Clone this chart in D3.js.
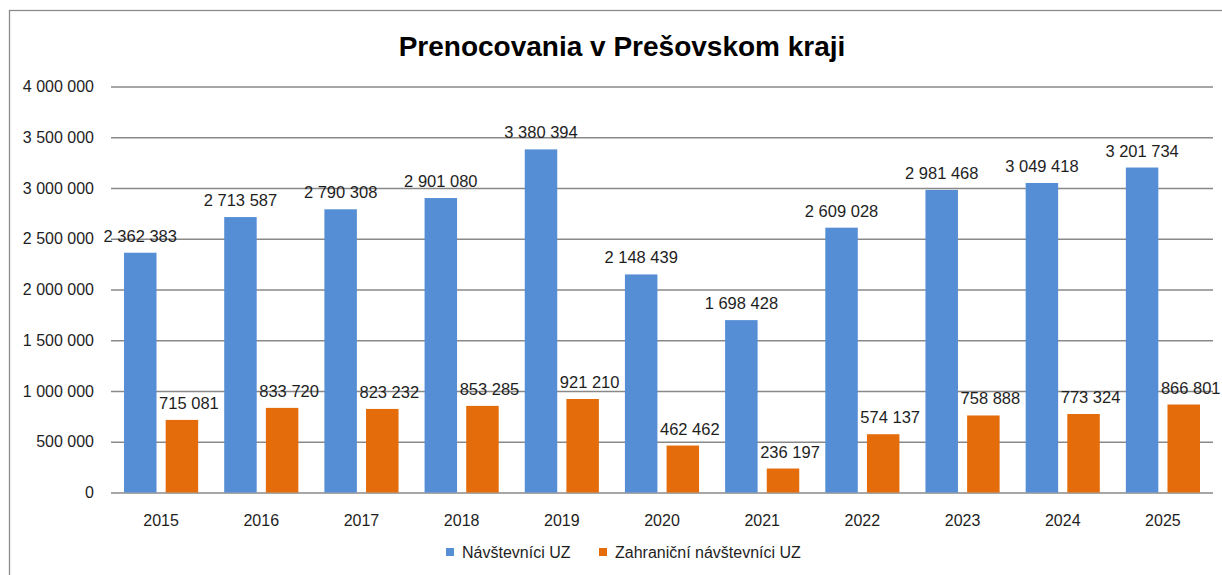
<!DOCTYPE html>
<html>
<head>
<meta charset="utf-8">
<script src="https://cdn.jsdelivr.net/npm/d3@7"></script>
<style>
  body { margin: 0; background: #fff; }
  svg { display: block; font-family: "Liberation Sans", Arial, sans-serif; }
</style>
</head>
<body>
<div id="chart"></div>
<script>
const years = ['2015', '2016', '2017', '2018', '2019', '2020', '2021', '2022', '2023', '2024', '2025'];
const visitors = [2362383, 2713587, 2790308, 2901080, 3380394, 2148439, 1698428, 2609028, 2981468, 3049418, 3201734];
const foreignVisitors = [715081, 833720, 823232, 853285, 921210, 462462, 236197, 574137, 758888, 773324, 866801];
const seriesNames = ['Návštevníci UZ', 'Zahraniční návštevníci UZ'];
const yTicks = [0, 500000, 1000000, 1500000, 2000000, 2500000, 3000000, 3500000, 4000000];

const width = 1222;
const height = 575;
const margin = { left: 111, right: 9, top: 86.5, bottom: 82.5 };
const colors = ['#558ed5', '#e46c0a'];

const fmt = v => d3.format(',')(v).replace(/,/g, ' ');

const svg = d3.select('#chart')
  .append('svg')
  .attr('width', width)
  .attr('height', height);

// outer chart frame
svg.append('rect')
  .attr('x', 9.5)
  .attr('y', 10.5)
  .attr('width', width + 20)
  .attr('height', height + 20)
  .attr('fill', 'none')
  .attr('stroke', '#8c8c8c')
  .attr('stroke-width', 1.3);

svg.append('text')
  .attr('x', 622)
  .attr('y', 56)
  .attr('text-anchor', 'middle')
  .attr('font-size', '28px')
  .attr('font-weight', 'bold')
  .attr('fill', '#000')
  .text('Prenocovania v Prešovskom kraji');

const x0 = d3.scaleBand()
  .domain(years)
  .range([margin.left, width - margin.right])
  .paddingInner(0.26)
  .paddingOuter(0.13);

const x1 = d3.scaleBand()
  .domain([0, 1])
  .range([0, x0.bandwidth()])
  .paddingInner(0.22);

const y = d3.scaleLinear()
  .domain([0, 4000000])
  .range([height - margin.bottom, margin.top]);

// gridlines + y labels
const yAxis = svg.append('g')
  .attr('transform', `translate(${margin.left},0)`)
  .call(d3.axisLeft(y).tickValues(yTicks).tickSize(-(width - margin.left - margin.right)).tickPadding(17).tickFormat(fmt));
yAxis.select('.domain').remove();
yAxis.selectAll('.tick line')
  .attr('stroke', '#898989')
  .attr('stroke-width', 1.3);
yAxis.selectAll('.tick text')
  .attr('font-size', '16px')
  .attr('fill', '#1e1e1e')
  .attr('font-family', '"Liberation Sans", Arial, sans-serif');

// x labels
const xAxis = svg.append('g')
  .attr('transform', `translate(0,${height - margin.bottom})`)
  .call(d3.axisBottom(x0).tickSize(0).tickPadding(22));
xAxis.select('.domain').remove();
xAxis.selectAll('.tick text')
  .attr('font-size', '16px')
  .attr('fill', '#1e1e1e')
  .attr('font-family', '"Liberation Sans", Arial, sans-serif');

const rows = years.map((yr, i) => ({ year: yr, values: [visitors[i], foreignVisitors[i]] }));

const groups = svg.selectAll('g.year')
  .data(rows)
  .join('g')
  .attr('class', 'year')
  .attr('transform', d => `translate(${x0(d.year)},0)`);

groups.selectAll('rect')
  .data(d => d.values.map((v, k) => ({ v, k })))
  .join('rect')
  .attr('x', d => x1(d.k))
  .attr('width', x1.bandwidth())
  .attr('y', d => y(d.v))
  .attr('height', d => y(0) - y(d.v))
  .attr('fill', d => colors[d.k]);

groups.selectAll('text.lbl')
  .data(d => d.values.map((v, k) => ({ v, k })))
  .join('text')
  .attr('class', 'lbl')
  .attr('x', d => x1(d.k) + x1.bandwidth() / 2 + (d.k === 1 ? 7 : 0))
  .attr('y', d => y(d.v) - 11)
  .attr('text-anchor', 'middle')
  .attr('font-size', '16.5px')
  .attr('fill', '#1e1e1e')
  .text(d => fmt(d.v));

// legend
const legendX = [446, 599];
const legend = svg.selectAll('g.legend')
  .data(seriesNames)
  .join('g')
  .attr('class', 'legend')
  .attr('transform', (d, i) => `translate(${legendX[i]},548)`);
legend.append('rect')
  .attr('width', 8)
  .attr('height', 8)
  .attr('fill', (d, i) => colors[i]);
legend.append('text')
  .attr('x', 16)
  .attr('y', 10)
  .attr('font-size', '16px')
  .attr('fill', '#1e1e1e')
  .text(d => d);
</script>
</body>
</html>
